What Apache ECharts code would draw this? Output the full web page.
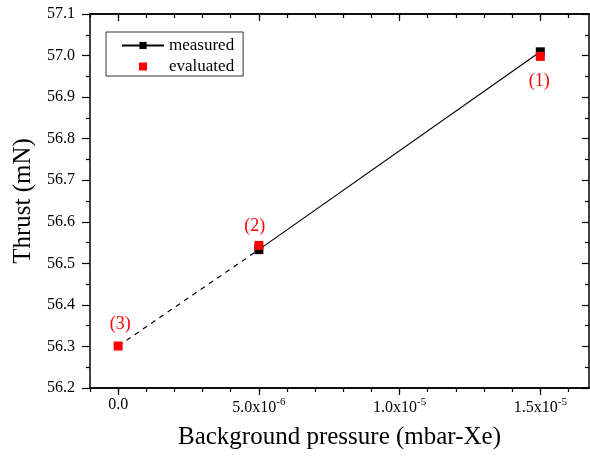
<!DOCTYPE html>
<html>
<head>
<meta charset="utf-8">
<script src="https://cdn.jsdelivr.net/npm/echarts@6/dist/echarts.min.js"></script>
<style>
  html, body { margin: 0; padding: 0; background: #fff; }
  #chart { width: 590px; height: 465px; }
</style>
</head>
<body>
<div id="chart"></div>
<script>
// ---- data ----
const measuredPressure = [5e-6, 1.5e-5];
const measuredThrust = [56.533, 57.009];
const evaluatedPressure = [1.5e-5, 5e-6, 0];
const evaluatedThrust = [56.998, 56.543, 56.301];
const evaluatedLabels = ['(1)', '(2)', '(3)'];
const extrapPressure = [0, 5e-6];
const extrapThrust = [56.301, 56.533];
const xMajorTicks = [0, 5e-6, 1e-5, 1.5e-5];
const xMinorTicks = [-1e-6, 0, 1e-6, 2e-6, 3e-6, 4e-6, 5e-6, 6e-6, 7e-6, 8e-6, 9e-6, 1e-5, 1.1e-5, 1.2e-5, 1.3e-5, 1.4e-5, 1.5e-5, 1.6e-5];
const yMin = 56.2, yMax = 57.1, yStep = 0.1;
const xMin = -1e-6, xMax = 1.673e-5;

const FONT = '"Liberation Serif", "DejaVu Serif", serif';
const labelPos = [
  { position: 'bottom', distance: 11, offset: [-1, 0] },
  { position: 'top', distance: 6, offset: [-4, 0] },
  { position: 'top', distance: 8, offset: [2, 0] }
];

function fmtX(v) {
  if (Math.abs(v) < 1e-12) return '{b|0.0}';
  const e = Math.floor(Math.log10(Math.abs(v)) + 1e-9);
  const m = v / Math.pow(10, e);
  return '{b|' + m.toFixed(1) + 'x10}{s|' + e + '}';
}

const axisLine = { show: true, onZero: false, lineStyle: { color: '#000', width: 1.5 } };

function xAxisDef(pos, major, showLabel, inside) {
  return {
    type: 'value', position: pos, min: xMin, max: xMax,
    interval: 1e-6,
    axisLine: axisLine,
    splitLine: { show: false },
    axisTick: {
      show: true, inside: inside, length: major ? 7 : 4,
      lineStyle: { color: '#000', width: 1.2 },
      customValues: major ? xMajorTicks : xMinorTicks
    },
    axisLabel: showLabel ? {
      show: true, margin: 9,
      customValues: xMajorTicks,
      formatter: fmtX,
      rich: {
        b: { fontFamily: FONT, fontSize: 16, color: '#000' },
        s: { fontFamily: FONT, fontSize: 11, color: '#000', padding: [0, 0, 10, 0] }
      }
    } : { show: false },
    name: showLabel ? 'Background pressure (mbar-Xe)' : '',
    nameLocation: 'middle', nameGap: 37,
    nameTextStyle: { fontFamily: FONT, fontSize: 25, color: '#000' }
  };
}

const option = {
  animation: false,
  backgroundColor: '#fff',
  grid: { left: 90, right: 1, top: 14, bottom: 77, containLabel: false },
  legend: {
    orient: 'vertical', left: 106, top: 32,
    padding: [5, 9, 1, 15],
    itemWidth: 42, itemHeight: 9, itemGap: 4,
    borderColor: '#333', borderWidth: 1,
    textStyle: { fontFamily: FONT, fontSize: 17, color: '#000' },
    data: [
      { name: 'measured' },
      { name: 'evaluated', icon: 'path://M0,0L0,0M17,0.5L25,0.5L25,8.5L17,8.5ZM42,9L42,9', itemStyle: { opacity: 1 } }
    ]
  },
  xAxis: [
    xAxisDef('bottom', true, true, false),
    xAxisDef('bottom', false, false, false),
    xAxisDef('top', true, false, true),
    xAxisDef('top', false, false, true)
  ],
  yAxis: [
    {
      type: 'value', position: 'left', min: yMin, max: yMax, interval: yStep,
      axisLine: axisLine, splitLine: { show: false },
      axisTick: { show: true, length: 8, lineStyle: { color: '#000', width: 1.2 } },
      minorTick: { show: true, splitNumber: 2, length: 4, lineStyle: { color: '#000', width: 1.2 } },
      axisLabel: { margin: 15, fontFamily: FONT, fontSize: 16, color: '#000', formatter: v => v.toFixed(1) },
      name: 'Thrust (mN)', nameLocation: 'middle', nameGap: 50, nameRotate: 90,
      nameTextStyle: { fontFamily: FONT, fontSize: 25, color: '#000' }
    },
    {
      type: 'value', position: 'right', min: yMin, max: yMax, interval: yStep,
      axisLine: axisLine, splitLine: { show: false },
      axisTick: { show: true, inside: true, length: 7, lineStyle: { color: '#000', width: 1.2 } },
      minorTick: { show: true, splitNumber: 2, length: 4, lineStyle: { color: '#000', width: 1.2 } },
      axisLabel: { show: false }
    }
  ],
  series: [
    {
      name: 'extrapolation', type: 'line', xAxisIndex: 0, yAxisIndex: 0,
      data: extrapPressure.map((p, i) => [p, extrapThrust[i]]),
      showSymbol: false, symbol: 'none',
      lineStyle: { color: '#000', width: 1.2, type: [5, 5] },
      z: 2
    },
    {
      name: 'measured', type: 'line', xAxisIndex: 0, yAxisIndex: 0,
      data: measuredPressure.map((p, i) => [p, measuredThrust[i]]),
      symbol: 'rect', symbolSize: 9,
      itemStyle: { color: '#000', opacity: 1 },
      lineStyle: { color: '#000', width: 1.2 },
      z: 3
    },
    {
      name: 'evaluated', type: 'scatter', xAxisIndex: 0, yAxisIndex: 0,
      symbol: 'rect', symbolSize: 9,
      itemStyle: { color: '#ff0000', opacity: 1 },
      data: evaluatedPressure.map((p, i) => ({
        value: [p, evaluatedThrust[i]],
        label: {
          show: true, formatter: evaluatedLabels[i],
          position: labelPos[i].position, distance: labelPos[i].distance, offset: labelPos[i].offset,
          fontFamily: FONT, fontSize: 18, color: '#ff0000'
        }
      })),
      z: 4
    }
  ]
};

const chart = echarts.init(document.getElementById('chart'), null, { renderer: 'canvas' });
chart.setOption(option);
</script>
</body>
</html>
